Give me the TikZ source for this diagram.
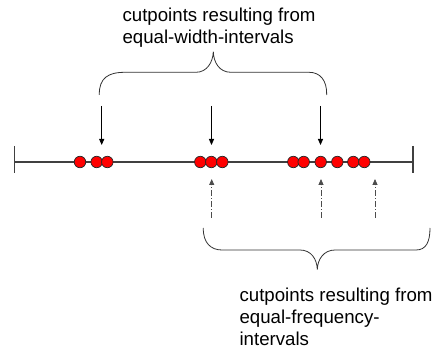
\documentclass[tikz,border=0pt]{standalone}
\usepackage{fontspec}
\setmainfont{Liberation Sans}
\usetikzlibrary{arrows.meta}
\begin{document}
\begin{tikzpicture}[x=0.75pt,y=-0.75pt,
  axisline/.style={draw=black!75, line width=0.8pt},
  dot/.style={circle, fill=red, draw=black!85, line width=0.55pt, minimum size=8.6pt, inner sep=0pt},
  downarrow/.style={draw=black, line width=0.6pt, -{Triangle[width=3.8pt,length=4.5pt]}},
  uparrow/.style={draw=black!70, line width=0.6pt, dash pattern=on 4.5pt off 1.5pt on 0.8pt off 1.5pt, -{Triangle[width=3.8pt,length=4.5pt]}},
  bracepath/.style={draw=black!80, line width=0.6pt},
  label/.style={font=\fontsize{14}{16.3}\selectfont, align=left, inner sep=0pt, anchor=base west}
]
\useasboundingbox (0,0) rectangle (438,348);
% axis
\coordinate (L) at (14.7,162);
\coordinate (R) at (413,162);
\draw[axisline] (L) -- (R);
\draw[axisline] (14.7,146) -- (14.7,173);
\draw[axisline] (413,146) -- (413,173);
% dots
\foreach \n/\x in {a/80, b/96.7, c/107.3, d/200.3, e/211.3, f/222.3, g/293.3, h/303.7, i/320.7, j/337.3, k/353.3, l/364.3}
  \node[dot] (\n) at (\x,162) {};
% down arrows
\coordinate (d1) at (101.7,106);
\coordinate (d2) at (211.5,106);
\coordinate (d3) at (320.5,106);
\coordinate (t1) at (101.7,145);
\coordinate (t2) at (211.5,145);
\coordinate (t3) at (320.5,145);
\draw[downarrow] (d1) -- (t1);
\draw[downarrow] (d2) -- (t2);
\draw[downarrow] (d3) -- (t3);
% up arrows
\coordinate (u1) at (211.7,218);
\coordinate (u2) at (321,218);
\coordinate (u3) at (375,218);
\coordinate (v1) at (211.7,179);
\coordinate (v2) at (321,179);
\coordinate (v3) at (375,179);
\draw[uparrow] (u1) -- (v1);
\draw[uparrow] (u2) -- (v2);
\draw[uparrow] (u3) -- (v3);
% upper brace
\draw[bracepath] (99.3,95) .. controls (99,78) and (108,72.3) .. (125,72.3)
  -- (196,72.3) .. controls (207,72.3) and (213,62) .. (213.3,51.7)
  .. controls (213.6,62) and (219,72.3) .. (231,72.3)
  -- (309,72.3) .. controls (320,72.3) and (327,80) .. (326.7,95);
% lower brace
\draw[bracepath] (203.3,228) .. controls (203,243) and (211,250) .. (222,250)
  -- (300,250) .. controls (311,250) and (317,259) .. (317.3,269.5)
  .. controls (317.6,259) and (324,250) .. (335,250)
  -- (416,250) .. controls (426,250) and (430,242) .. (430,228);
% labels
\node[label] (top) at (122.3,43.3) {cutpoints resulting from\\equal-width-intervals};
\node[label] (bot) at (239.3,345) {cutpoints resulting from\\equal-frequency-\\intervals};
\end{tikzpicture}
\end{document}
